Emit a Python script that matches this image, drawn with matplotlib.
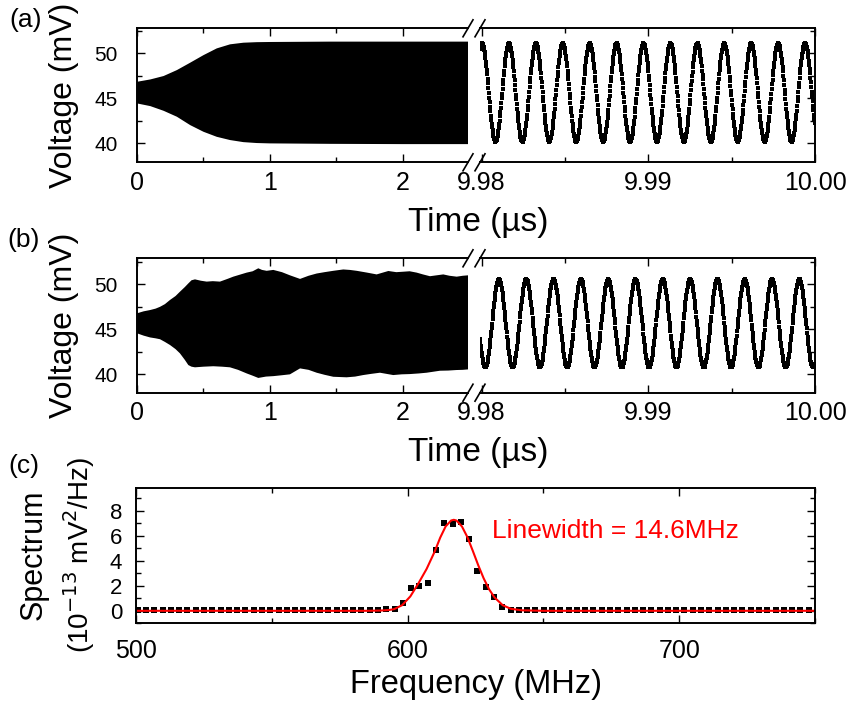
import numpy as np
import matplotlib
matplotlib.use("Agg")
import matplotlib.pyplot as plt
from matplotlib.ticker import MultipleLocator, FixedLocator, FixedFormatter
from matplotlib.lines import Line2D

plt.rcParams['font.family'] = ['Liberation Sans', 'DejaVu Sans']

# ---- data ----
# (a) envelope of the fast oscillation (time in us, voltage in mV)
env_t_a = [0, 0.1, 0.2, 0.3, 0.4, 0.5, 0.6, 0.7, 0.8, 0.9, 1.0, 1.45, 2.0, 2.49]
env_hi_a = [46.84, 47.1, 47.48, 48.14, 48.96, 49.8, 50.55, 51.0, 51.18, 51.24, 51.26, 51.3, 51.3, 51.3]
env_lo_a = [44.44, 44.14, 43.62, 42.96, 42.03, 41.29, 40.73, 40.37, 40.14, 40.04, 40.0, 39.95, 39.92, 39.92]

# (b) envelope, noisy
env_thi_b = [0, 0.05, 0.098, 0.14, 0.173, 0.21, 0.248, 0.29, 0.323, 0.36, 0.386, 0.41, 0.436,
             0.48, 0.524, 0.57, 0.624, 0.68, 0.724, 0.78, 0.825, 0.87, 0.912, 0.94, 0.975,
             1.025, 1.09, 1.15, 1.226, 1.29, 1.351, 1.41, 1.476, 1.551, 1.6, 1.652, 1.73,
             1.802, 1.89, 1.95, 2.002, 2.05, 2.103, 2.15, 2.203, 2.303, 2.35, 2.404, 2.45, 2.49]
env_hi_b = [46.78, 47.0, 47.14, 47.3, 47.5, 47.8, 48.26, 48.7, 49.18, 49.7, 50.1, 50.45, 50.55,
            50.4, 50.3, 50.35, 50.3, 50.6, 50.85, 51.1, 51.3, 51.45, 51.78, 51.6, 51.5,
            51.6, 51.35, 51.0, 50.6, 50.95, 51.2, 51.35, 51.5, 51.65, 51.6, 51.5, 51.3,
            51.1, 51.48, 51.35, 51.4, 51.45, 51.3, 51.1, 50.9, 51.1, 50.95, 50.85, 50.95, 51.0]
env_tlo_b = [0, 0.05, 0.098, 0.14, 0.173, 0.21, 0.248, 0.29, 0.323, 0.36, 0.386, 0.41, 0.436,
             0.5, 0.574, 0.64, 0.699, 0.76, 0.825, 0.87, 0.912, 0.97, 1.025, 1.09, 1.15,
             1.226, 1.29, 1.351, 1.41, 1.476, 1.576, 1.64, 1.701, 1.76, 1.827, 1.927, 1.99,
             2.052, 2.12, 2.178, 2.278, 2.34, 2.404, 2.45, 2.49]
env_lo_b = [44.56, 44.3, 44.1, 44.0, 43.9, 43.6, 43.26, 42.8, 42.33, 41.6, 41.03, 40.85, 40.78,
            40.85, 40.9, 40.85, 40.78, 40.5, 40.1, 39.85, 39.6, 39.75, 39.8, 39.9, 40.0,
            40.66, 40.5, 40.18, 39.95, 39.73, 39.67, 39.75, 39.92, 40.05, 40.18, 39.92, 40.0,
            40.03, 40.1, 40.18, 40.4, 40.42, 40.48, 40.5, 40.55]

# zoomed part: times of the maxima and the max / min level
peaks_a = [9.981635, 9.983275, 9.984892, 9.986485, 9.988084, 9.989683,
           9.991275, 9.992916, 9.994509, 9.996108, 9.997743, 9.999401]
hi_a, lo_a = 51.1, 40.2
peaks_b = [9.981036, 9.982695, 9.984329, 9.98597, 9.987587, 9.989222,
           9.990838, 9.992473, 9.994114, 9.99573, 9.997407, 9.99906]
hi_b, lo_b = 50.55, 40.78
dt_sample = 0.000025  # us, sampling step of the scope

# (c) spectrum points (MHz, 1e-13 mV^2/Hz)
f0, df = 500.65, 3.05
spec = ([0.03] * 30 + [0.12, 0.13, 0.66, 1.80, 2.0, 2.25, 4.9, 7.04, 6.96, 7.14, 5.71,
                       3.2, 1.93, 1.13, 0.34, 0.05] + [0.03] * 36)
fit_f = [500, 585, 590, 593, 595, 598, 601, 604, 607, 610, 612, 614, 616, 617, 618, 620,
         622, 624, 626, 628, 630, 632, 635, 638, 642, 650, 750]
fit_v = [0.0, 0.0, 0.02, 0.06, 0.13, 0.45, 1.15, 2.2, 3.35, 4.75, 5.85, 6.75, 7.22, 7.28,
         7.22, 6.75, 5.9, 4.8, 3.65, 2.6, 1.72, 1.07, 0.45, 0.16, 0.04, 0.0, 0.0]

W, H = 851, 711
fig = plt.figure(figsize=(W / 100, H / 100), dpi=100)


def rect(x0, y0, x1, y1):
    return [x0 / W, 1 - y1 / H, (x1 - x0) / W, (y1 - y0) / H]


def ftext(x, y, s, **kw):
    fig.text(x / W, 1 - y / H, s, **kw)


def style(ax, xs=18, ys=15):
    for sp in ax.spines.values():
        sp.set_linewidth(1.4)
    ax.tick_params(which='both', direction='in', top=True, right=True, width=1.0)
    ax.tick_params(which='major', length=6)
    ax.tick_params(which='minor', length=3.5)
    ax.tick_params(axis='x', labelsize=xs, pad=6)
    ax.tick_params(axis='y', labelsize=ys, pad=14)


def wave(ax, peaks, hi, lo):
    period = np.mean(np.diff(peaks))
    t = np.arange(9.9799, 10.0, dt_sample)
    v = (hi + lo) / 2 + (hi - lo) / 2 * np.cos(2 * np.pi * (t - peaks[0]) / period)
    ax.plot(t, v, 's', color='black', markersize=2.6, markeredgewidth=0)


def broken_panel(ytop, ybot, ylim):
    axl = fig.add_axes(rect(137, ytop, 468, ybot))
    axr = fig.add_axes(rect(480, ytop, 815, ybot))
    for ax in (axl, axr):
        style(ax)
        ax.set_ylim(*ylim)
        ax.yaxis.set_major_locator(FixedLocator([40, 45, 50]))
        ax.yaxis.set_minor_locator(MultipleLocator(2.5))
    axl.spines['right'].set_visible(False)
    axl.tick_params(which='both', right=False)
    axr.spines['left'].set_visible(False)
    axr.tick_params(which='both', left=False, labelleft=False)
    axl.set_xlim(0, 2.489)
    axl.xaxis.set_major_locator(FixedLocator([0, 1, 2]))
    axl.xaxis.set_major_formatter(FixedFormatter(['0', '1', '2']))
    axl.xaxis.set_minor_locator(MultipleLocator(0.5))
    axr.set_xlim(9.9799, 10.0)
    axr.xaxis.set_major_locator(FixedLocator([9.98, 9.99, 10.0]))
    axr.xaxis.set_major_formatter(FixedFormatter(['9.98', '9.99', '10.00']))
    axr.xaxis.set_minor_locator(FixedLocator([9.985, 9.995]))
    # break marks
    for x in (468, 480):
        for y in (ytop, ybot):
            fig.add_artist(Line2D([(x - 5) / W, (x + 5) / W], [1 - (y + 8.5) / H, 1 - (y - 8.5) / H],
                                  color='black', lw=1.2, transform=fig.transFigure))
    return axl, axr


# ---- (a) ----
axl, axr = broken_panel(28.3, 162.3, (37.9, 52.78))
axl.fill(env_t_a + env_t_a[::-1], env_hi_a + env_lo_a[::-1], color='black', lw=0)
wave(axr, peaks_a, hi_a, lo_a)
ftext(64, 95, 'Voltage (mV)', rotation=90, ha='center', va='center', fontsize=23)
ftext(478, 222, 'Time (\u00b5s)', ha='center', va='center', fontsize=24)
ftext(26, 20, '(a)', ha='center', va='center', fontsize=19)

# ---- (b) ----
axl, axr = broken_panel(258.3, 392.7, (37.96, 52.89))
axl.fill(env_thi_b + env_tlo_b[::-1], env_hi_b + env_lo_b[::-1], color='black', lw=0)
wave(axr, peaks_b, hi_b, lo_b)
ftext(64, 325.5, 'Voltage (mV)', rotation=90, ha='center', va='center', fontsize=23)
ftext(478, 452, 'Time (\u00b5s)', ha='center', va='center', fontsize=24)
ftext(24, 240, '(b)', ha='center', va='center', fontsize=19)

# ---- (c) ----
axc = fig.add_axes(rect(136, 488.3, 815, 623.3))
style(axc, xs=18, ys=16)
axc.tick_params(axis='y', pad=10)
axc.tick_params(axis='x', pad=11)
freqs = f0 + df * np.arange(len(spec))
axc.plot(freqs, spec, 's', color='black', markersize=3.8, markeredgewidth=0)
axc.plot(fit_f, fit_v, '-', color='red', lw=1.5)
axc.set_xlim(500, 750)
axc.set_ylim(-1, 9.8)
axc.xaxis.set_major_locator(FixedLocator([500, 600, 700]))
axc.xaxis.set_minor_locator(FixedLocator([550, 650, 750]))
axc.yaxis.set_major_locator(FixedLocator([0, 2, 4, 6, 8]))
axc.yaxis.set_minor_locator(FixedLocator([-1, 1, 3, 5, 7, 9]))
ftext(491.7, 530.5, 'Linewidth = 14.6MHz', color='red', fontsize=19, ha='left', va='center')
ftext(34, 555, 'Spectrum', rotation=90, ha='center', va='center', fontsize=22)
ftext(79, 555, '(10$^{-13}$ mV$^{2}$/Hz)', rotation=90, ha='center', va='center', fontsize=20)
ftext(476, 685, 'Frequency (MHz)', ha='center', va='center', fontsize=23.5)
ftext(24, 466, '(c)', ha='center', va='center', fontsize=19)

fig.savefig('out.png', dpi=100)
